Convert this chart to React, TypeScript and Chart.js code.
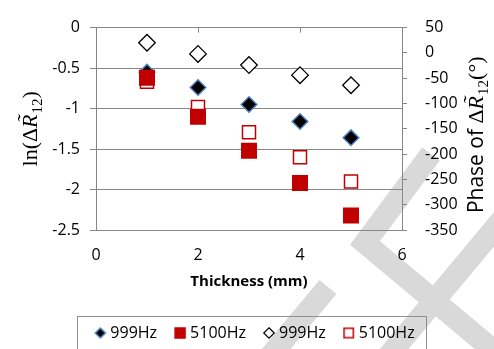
import { useEffect, useRef } from 'react';
import { Chart, registerables } from 'chart.js';

Chart.register(...registerables);

// Sample thickness (mm)
const thickness = [1, 2, 3, 4, 5];
// ln of the amplitude ratio, left axis
const lnAmp999 = [-0.55, -0.74, -0.95, -1.16, -1.36];
const lnAmp5100 = [-0.62, -1.1, -1.52, -1.92, -2.32];
// phase in degrees, right axis
const phase999 = [20, -2, -24, -44, -64];
const phase5100 = [-57, -107, -157, -206, -254];

const seriesLabels = ['999Hz', '5100Hz', '999Hz', '5100Hz'];
const xTickValues = [0, 2, 4, 6];
const lnTickValues = [0, -0.5, -1, -1.5, -2, -2.5];
const phaseTickValues = [50, 0, -50, -100, -150, -200, -250, -300, -350];
const xTitle = 'Thickness (mm)';

const FONT = "'Open Sans', 'DejaVu Sans', sans-serif";
const SERIF = "'Liberation Serif', 'DejaVu Serif', serif";
const RED = '#c00000';
const BLUE = '#4f81bd';
const GRID = '#878787';
const SHADE = '#d9d9d9';

type Part = { text: string; font: string; dy?: number; tilde?: boolean; gap?: number };

// Draws a rotated (bottom-to-top) run of mixed-style text centred on centerY,
// with its baseline at page x = baseX.
function drawRotatedTitle(ctx: CanvasRenderingContext2D, parts: Part[], baseX: number, centerY: number) {
  ctx.save();
  ctx.translate(baseX, centerY);
  ctx.rotate(-Math.PI / 2);
  ctx.fillStyle = '#000';
  ctx.textBaseline = 'alphabetic';
  ctx.textAlign = 'left';
  const widths = parts.map((p) => {
    ctx.font = p.font;
    return ctx.measureText(p.text).width + (p.gap || 0);
  });
  const total = widths.reduce((a, b) => a + b, 0);
  let x = -total / 2;
  parts.forEach((p, i) => {
    ctx.font = p.font;
    ctx.fillText(p.text, x, p.dy || 0);
    if (p.tilde) {
      const tw = ctx.measureText('\u02DC').width;
      ctx.fillText('\u02DC', x + widths[i] / 2 - tw / 2 + 1.5, -5);
    }
    x += widths[i];
  });
  ctx.restore();
}

function makeMarker(kind: 'diamond' | 'square', size: number, fill: string, stroke: string | null, lw: number) {
  const c = document.createElement('canvas');
  const dim = Math.ceil(size + lw + 2);
  c.width = dim;
  c.height = dim;
  const g = c.getContext('2d')!;
  const m = dim / 2;
  const h = size / 2;
  g.beginPath();
  if (kind === 'diamond') {
    g.moveTo(m, m - h);
    g.lineTo(m + h, m);
    g.lineTo(m, m + h);
    g.lineTo(m - h, m);
    g.closePath();
  } else {
    g.rect(m - h, m - h, size, size);
  }
  g.fillStyle = fill;
  g.fill();
  if (stroke) {
    g.lineWidth = lw;
    g.strokeStyle = stroke;
    g.stroke();
  }
  return c;
}

// Light diagonal bands behind the plot
const backdropPlugin = {
  id: 'backdrop',
  beforeDraw(chart: any) {
    const ctx = chart.ctx as CanvasRenderingContext2D;
    ctx.save();
    ctx.strokeStyle = SHADE;
    ctx.lineWidth = 22;
    ctx.lineCap = 'butt';
    ctx.lineJoin = 'miter';
    ctx.beginPath();
    ctx.moveTo(267, 360);
    ctx.lineTo(328, 287);
    ctx.stroke();
    ctx.beginPath();
    ctx.moveTo(431, 154);
    ctx.lineTo(365, 243);
    ctx.lineTo(505, 360);
    ctx.stroke();
    ctx.beginPath();
    ctx.moveTo(385, 360);
    ctx.lineTo(505, 216);
    ctx.stroke();
    ctx.restore();
  },
};

const decorPlugin = {
  id: 'decor',
  afterDraw(chart: any) {
    const ctx = chart.ctx as CanvasRenderingContext2D;
    const area = chart.chartArea;
    const midY = (area.top + area.bottom) / 2;
    drawRotatedTitle(
      ctx,
      [
        { text: 'ln(\u0394', font: `22px ${SERIF}` },
        { text: 'R', font: `italic 22px ${SERIF}`, tilde: true, gap: 1 },
        { text: '12', font: `15px ${SERIF}`, dy: 5 },
        { text: ')', font: `22px ${SERIF}` },
      ],
      area.left - 59,
      midY
    );
    drawRotatedTitle(
      ctx,
      [
        { text: 'Phase of ', font: `21px ${FONT}` },
        { text: '\u0394', font: `22px ${SERIF}` },
        { text: 'R', font: `italic 22px ${SERIF}`, tilde: true, gap: 1 },
        { text: '12', font: `15px ${SERIF}`, dy: 5 },
        { text: '(\u00B0)', font: `22px ${SERIF}` },
      ],
      area.right + 81,
      midY + 6
    );
    // frame around the legend
    const hb = chart.legend?.legendHitBoxes;
    if (hb && hb.length) {
      const last = hb[hb.length - 1];
      const left = Math.round(hb[0].left - 21) + 0.5;
      const right = Math.round(last.left + last.width + 11) + 0.5;
      const top = Math.round(hb[0].top - 9) + 0.5;
      ctx.save();
      ctx.strokeStyle = '#8f8f8f';
      ctx.lineWidth = 1;
      ctx.strokeRect(left, top, right - left, 80);
      ctx.restore();
    }
  },
};

const tickFont = { family: FONT, size: 16 };

export default function App() {
  const ref = useRef<HTMLCanvasElement>(null);

  useEffect(() => {
    const canvas = ref.current;
    if (!canvas) return;
    const markers = [
      makeMarker('diamond', 10, '#000', BLUE, 1.5),
      makeMarker('square', 11.5, RED, null, 0),
      makeMarker('diamond', 10.5, '#fff', '#000', 1.2),
      makeMarker('square', 9.3, '#fff', RED, 1.5),
    ];
    const pts = (ys: number[]) => thickness.map((x, i) => ({ x, y: ys[i] }));

    const chart = new Chart(canvas, {
      type: 'scatter',
      data: {
        datasets: [
          {
            label: seriesLabels[0],
            data: pts(lnAmp999),
            xAxisID: 'x',
            yAxisID: 'y',
            pointStyle: 'rectRot',
            pointRadius: 7.8,
            backgroundColor: '#000',
            borderColor: BLUE,
            borderWidth: 1.5,
            order: 1,
          },
          {
            label: seriesLabels[1],
            data: pts(lnAmp5100),
            xAxisID: 'x',
            yAxisID: 'y',
            pointStyle: 'rect',
            pointRadius: 11.3,
            backgroundColor: RED,
            borderColor: RED,
            borderWidth: 0,
            order: 0,
          },
          {
            label: seriesLabels[2],
            data: pts(phase999),
            xAxisID: 'x',
            yAxisID: 'y2',
            pointStyle: 'rectRot',
            pointRadius: 8.3,
            backgroundColor: '#fff',
            borderColor: '#000',
            borderWidth: 1.3,
            order: 2,
          },
          {
            label: seriesLabels[3],
            data: pts(phase5100),
            xAxisID: 'x',
            yAxisID: 'y2',
            pointStyle: 'rect',
            pointRadius: 9.2,
            backgroundColor: '#fff',
            borderColor: RED,
            borderWidth: 1.5,
            order: 3,
          },
        ],
      },
      options: {
        responsive: false,
        maintainAspectRatio: false,
        animation: false,
        devicePixelRatio: 1,
        events: [],
        layout: { padding: { left: 19, right: 0, top: 11, bottom: -2 } },
        scales: {
          x: {
            type: 'linear',
            position: 'bottom',
            min: 0,
            max: 6,
            afterBuildTicks: (s: any) => {
              s.ticks = xTickValues.map((v) => ({ value: v }));
            },
            grid: { display: false },
            border: { display: true, color: GRID, width: 1 },
            ticks: { font: tickFont, color: '#000', padding: 8, maxRotation: 0, callback: (v: any) => String(v) },
            title: {
              display: true,
              text: xTitle,
              color: '#000',
              font: { family: FONT, size: 15, weight: 'bold' },
              padding: { top: 0, bottom: 13 },
            },
            afterFit: (s: any) => {
              s.height = 74;
            },
          },
          xTop: {
            type: 'linear',
            position: 'top',
            min: 0,
            max: 6,
            afterBuildTicks: (s: any) => {
              s.ticks = xTickValues.map((v) => ({ value: v }));
            },
            ticks: { display: false },
            grid: { display: true, drawOnChartArea: false, drawTicks: true, tickLength: -5, color: GRID },
            border: { display: true, color: GRID, width: 1 },
            afterFit: (s: any) => {
              s.height = 0;
            },
          },
          y: {
            type: 'linear',
            position: 'left',
            min: -2.5,
            max: 0,
            afterBuildTicks: (s: any) => {
              s.ticks = lnTickValues.map((v) => ({ value: v }));
            },
            grid: { color: GRID, lineWidth: 1, drawTicks: true, tickLength: 6 },
            border: { display: true, color: GRID, width: 1 },
            ticks: { font: tickFont, color: '#000', padding: 10, callback: (v: any) => String(v) },
            afterFit: (s: any) => {
              s.width = 77;
            },
          },
          y2: {
            type: 'linear',
            position: 'right',
            min: -350,
            max: 50,
            afterBuildTicks: (s: any) => {
              s.ticks = phaseTickValues.map((v) => ({ value: v }));
            },
            grid: { drawOnChartArea: false, color: GRID, drawTicks: true, tickLength: 5 },
            border: { display: true, color: GRID, width: 1 },
            ticks: { font: tickFont, color: '#000', padding: 18, callback: (v: any) => String(v) },
            afterFit: (s: any) => {
              s.width = 92;
            },
          },
        },
        plugins: {
          tooltip: { enabled: false },
          legend: {
            position: 'bottom',
            labels: {
              usePointStyle: true,
              boxWidth: 4,
              boxHeight: 15,
              padding: 21,
              color: '#000',
              font: { family: FONT, size: 16 },
              sort: (a: any, b: any) => a.datasetIndex - b.datasetIndex,
              generateLabels: (c: any) =>
                Chart.defaults.plugins.legend.labels
                  .generateLabels(c)
                  .map((item: any) => ({ ...item, pointStyle: markers[item.datasetIndex] })),
            },
          },
        },
      } as any,
      plugins: [backdropPlugin, decorPlugin],
    });

    return () => chart.destroy();
  }, []);

  return (
    <div style={{ position: 'fixed', left: 0, top: 0, width: 494, height: 349, background: '#fff' }}>
      <canvas ref={ref} width={494} height={349} style={{ display: 'block', width: 494, height: 349 }} />
    </div>
  );
}
